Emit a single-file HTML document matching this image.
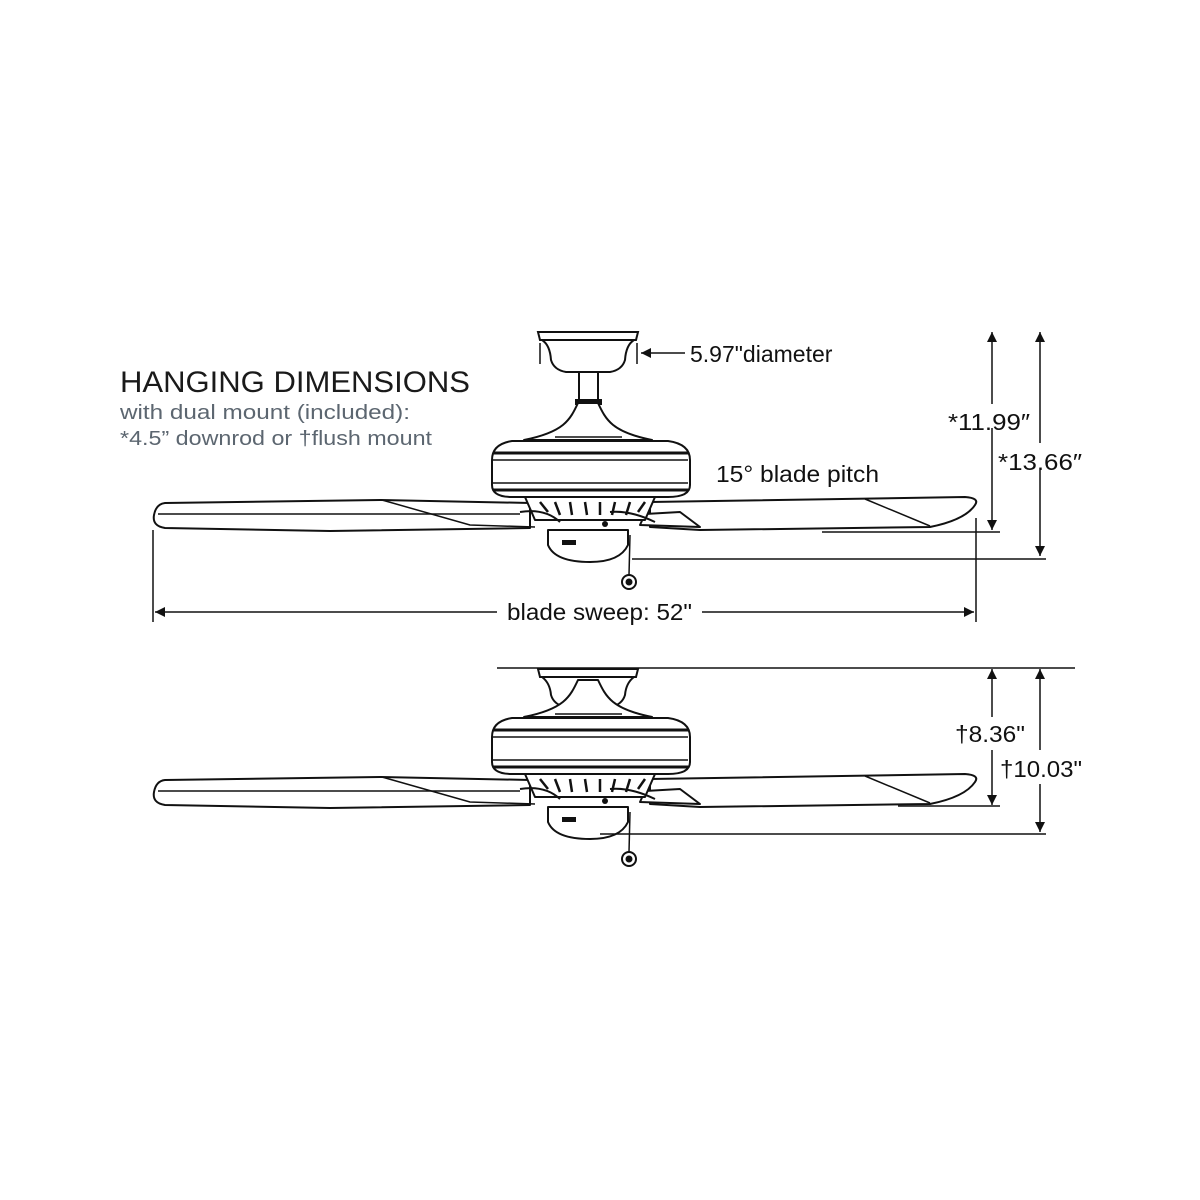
<!DOCTYPE html>
<html><head><meta charset="utf-8"><style>
html,body{margin:0;padding:0;background:#fff;}
svg{display:block;}
text{font-family:"Liberation Sans",sans-serif;}
</style></head><body>
<svg width="1200" height="1200" viewBox="0 0 1200 1200" xmlns="http://www.w3.org/2000/svg">
<defs>
<marker id="ah" viewBox="0 0 10 10" refX="10" refY="5" markerWidth="10" markerHeight="10" markerUnits="userSpaceOnUse" orient="auto-start-reverse">
<path d="M0,0 L10,5 L0,10 z" fill="#111"/></marker>
<g id="fan" stroke="#111" stroke-width="2" fill="#fff" stroke-linejoin="round">
  <path d="M578,403 L598,403 C606,420 612,432 652,440 L524,440 C564,432 570,420 578,403 Z"/>
  <line x1="555" y1="437" x2="622" y2="437" stroke-width="1.5"/>
  <path d="M165,503 L380,500 L530,503 L530,528 L330,531 L165,528 Q152,526 154,515 Q156,504 165,503 Z"/>
  <line x1="158" y1="514" x2="520" y2="514" stroke-width="1.5"/>
  <path d="M382,500 L470,525 L535,527" fill="none" stroke-width="1.5"/>
  <path d="M650,502 L965,497 Q980,498 975,505 Q965,520 930,527 L700,530 L650,527 Z"/>
  <path d="M865,499 L930,526" fill="none" stroke-width="1.5"/>
  <path d="M645,514 L680,512 L700,527 L640,525 Z"/>
  <path d="M525,497 L655,497 L645,520 L535,520 Z"/>
  <g stroke-width="2.5">
  <line x1="540" y1="502" x2="548" y2="512"/><line x1="555" y1="502" x2="560" y2="515"/>
  <line x1="570" y1="502" x2="572" y2="515"/><line x1="585" y1="502" x2="587" y2="515"/>
  <line x1="600" y1="502" x2="600" y2="515"/><line x1="615" y1="502" x2="612" y2="515"/>
  <line x1="630" y1="502" x2="626" y2="515"/><line x1="645" y1="502" x2="638" y2="512"/>
  </g>
  <path d="M520,512 Q545,508 560,522" fill="none"/>
  <path d="M610,512 Q630,510 655,522" fill="none"/>
  <path d="M512,441 L668,441 Q690,444 690,460 L690,485 Q690,497 668,497 L512,497 Q492,497 492,485 L492,460 Q492,444 512,441 Z"/>
  <line x1="493" y1="453" x2="688" y2="453" stroke-width="3"/>
  <line x1="493" y1="460" x2="688" y2="460" stroke-width="1.5"/>
  <line x1="493" y1="483" x2="688" y2="483" stroke-width="1.5"/>
  <line x1="493" y1="490" x2="688" y2="490" stroke-width="3"/>
  <path d="M548,530 L628,530 L628,545 Q620,562 590,562 Q555,562 548,545 Z"/>
  <rect x="562" y="540" width="14" height="5" fill="#111" stroke="none"/>
  <circle cx="605" cy="524" r="3" fill="#111" stroke="none"/>
  <line x1="630" y1="535" x2="629" y2="575" stroke-width="1.5"/>
  <circle cx="629" cy="582" r="7"/>
  <circle cx="629" cy="582" r="2.5" fill="#111"/>
</g>
</defs>

<g stroke="#111" stroke-width="2" fill="#fff">
  <path d="M538,332 L638,332 L636,340 L540,340 Z"/>
  <path d="M542,340 L634,340 Q626,345 625,360 Q622,370 610,372 L566,372 Q554,370 551,360 Q550,345 542,340 Z"/>
  <rect x="579" y="372" width="19" height="29"/>
  <rect x="576" y="400" width="25" height="4" fill="#111"/>
</g>
<use href="#fan"/>
<line x1="540" y1="343" x2="540" y2="364" stroke="#111" stroke-width="1.5"/>
<line x1="637" y1="343" x2="637" y2="364" stroke="#111" stroke-width="1.5"/>
<line x1="685" y1="353" x2="641" y2="353" stroke="#111" stroke-width="1.5" marker-end="url(#ah)"/>
<text x="690" y="362" font-size="23" fill="#111">5.97"diameter</text>

<text x="120" y="392" font-size="30" fill="#1a1a1a" textLength="350" lengthAdjust="spacingAndGlyphs">HANGING DIMENSIONS</text>
<text x="120" y="419" font-size="20" fill="#5c6670" textLength="290" lengthAdjust="spacingAndGlyphs">with dual mount (included):</text>
<text x="120" y="445" font-size="20" fill="#5c6670" textLength="312" lengthAdjust="spacingAndGlyphs">*4.5” downrod or †flush mount</text>
<text x="716" y="482" font-size="23" fill="#111" textLength="163" lengthAdjust="spacingAndGlyphs">15° blade pitch</text>

<g stroke="#111" stroke-width="1.5" fill="none">
  <line x1="992" y1="332" x2="992" y2="404" marker-start="url(#ah)"/>
  <line x1="992" y1="428" x2="992" y2="530" marker-end="url(#ah)"/>
  <line x1="822" y1="532" x2="1000" y2="532"/>
  <line x1="1040" y1="332" x2="1040" y2="443" marker-start="url(#ah)"/>
  <line x1="1040" y1="470" x2="1040" y2="556" marker-end="url(#ah)"/>
  <line x1="632" y1="559" x2="1046" y2="559"/>
  <line x1="976" y1="518" x2="976" y2="622"/>
  <line x1="153" y1="530" x2="153" y2="622"/>
  <line x1="497" y1="612" x2="155" y2="612" marker-end="url(#ah)"/>
  <line x1="702" y1="612" x2="974" y2="612" marker-end="url(#ah)"/>
</g>
<text x="948" y="430" font-size="23" fill="#111" textLength="82" lengthAdjust="spacingAndGlyphs">*11.99″</text>
<text x="998" y="470" font-size="23" fill="#111" textLength="84" lengthAdjust="spacingAndGlyphs">*13.66″</text>
<text x="507" y="620" font-size="23" fill="#111" textLength="185" lengthAdjust="spacingAndGlyphs">blade sweep: 52"</text>

<line x1="497" y1="668" x2="1075" y2="668" stroke="#111" stroke-width="1.5"/>
<g stroke="#111" stroke-width="2" fill="#fff">
  <path d="M538,669 L638,669 L636,677 L540,677 Z"/>
  <path d="M542,677 L634,677 Q626,683 625,695 Q622,705 610,707 L566,707 Q554,705 551,695 Q550,683 542,677 Z"/>
</g>
<g transform="translate(0,277)">
  <path d="M566,430 L610,430 Q616,437 652,440 L524,440 Q560,437 566,430 Z" fill="#fff" stroke="#111" stroke-width="2"/>
  <use href="#fan"/>
</g>
<g stroke="#111" stroke-width="1.5" fill="none">
  <line x1="992" y1="669" x2="992" y2="717" marker-start="url(#ah)"/>
  <line x1="992" y1="750" x2="992" y2="805" marker-end="url(#ah)"/>
  <line x1="898" y1="806" x2="1000" y2="806"/>
  <line x1="1040" y1="669" x2="1040" y2="750" marker-start="url(#ah)"/>
  <line x1="1040" y1="784" x2="1040" y2="832" marker-end="url(#ah)"/>
  <line x1="600" y1="834" x2="1046" y2="834"/>
</g>
<text x="955" y="742" font-size="23" fill="#111" textLength="70" lengthAdjust="spacingAndGlyphs">†8.36"</text>
<text x="1000" y="777" font-size="23" fill="#111" textLength="82" lengthAdjust="spacingAndGlyphs">†10.03"</text>
</svg>
</body></html>
